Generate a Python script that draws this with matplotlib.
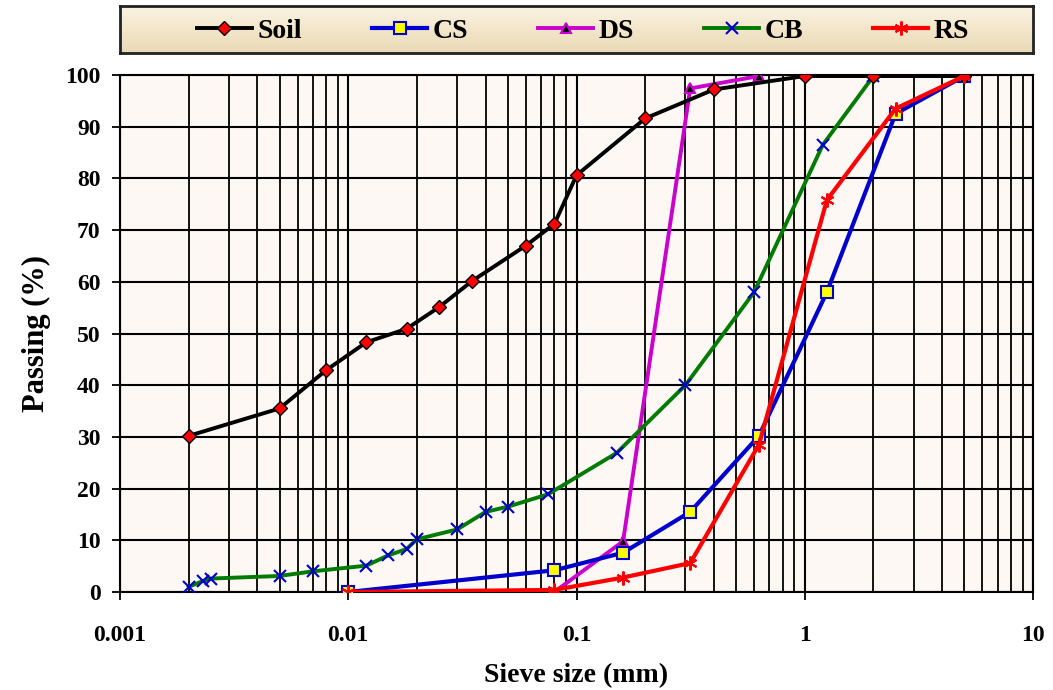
import numpy as np
import matplotlib.pyplot as plt
from matplotlib.ticker import LogLocator, FixedLocator, NullFormatter

plt.rcParams['font.family'] = ['Liberation Serif', 'DejaVu Serif']
plt.rcParams['font.weight'] = 'bold'

# sieve sizes (mm) and passing (%) for each material
soil_x = [0.002, 0.005, 0.008, 0.012, 0.018, 0.025, 0.035, 0.06, 0.08, 0.1, 0.2, 0.4, 1.0, 2.0, 5.0]
soil_y = [30.2, 35.5, 42.9, 48.3, 50.9, 55.1, 60.2, 67.0, 71.2, 80.6, 91.6, 97.2, 99.8, 99.8, 99.8]

cs_x = [0.01, 0.08, 0.16, 0.315, 0.63, 1.25, 2.5, 5.0]
cs_y = [0.0, 4.2, 7.6, 15.5, 30.2, 58.0, 92.5, 99.8]

ds_x = [0.01, 0.08, 0.16, 0.315, 0.63]
ds_y = [0.0, 0.0, 9.8, 97.4, 99.8]

cb_x = [0.002, 0.0023, 0.0025, 0.005, 0.007, 0.012, 0.015, 0.018, 0.02, 0.03, 0.04, 0.05,
        0.075, 0.15, 0.3, 0.6, 1.2, 2.0, 5.0]
cb_y = [1.0, 2.1, 2.6, 3.1, 4.0, 5.1, 7.1, 8.3, 10.2, 12.1, 15.5, 16.5,
        18.9, 26.9, 40.0, 58.0, 86.5, 99.8, 99.8]

rs_x = [0.01, 0.08, 0.16, 0.315, 0.63, 1.25, 2.5, 5.0]
rs_y = [0.0, 0.4, 2.8, 5.6, 28.5, 75.8, 93.5, 99.8]

W, H = 1053, 690
fig = plt.figure(figsize=(W / 100, H / 100), dpi=100)
ax = fig.add_axes([120 / W, 1 - 592 / H, 913 / W, 517 / H])
ax.set_facecolor('#FDF8F4')

ax.plot(soil_x, soil_y, color='black', lw=2.8, marker='D', ms=7,
        mfc='red', mec='black', mew=1, label='Soil', zorder=5)
ax.plot(cs_x, cs_y, color='#0000CC', lw=3, marker='s', ms=8,
        mfc='yellow', mec='#0000CC', mew=1.5, label='CS', zorder=4)
ax.plot(ds_x, ds_y, color='#CC00CC', lw=2.8, marker='^', ms=7,
        mfc='black', mec='#CC00CC', mew=1.5, label='DS', zorder=3)
ax.plot(cb_x, cb_y, color='#007A00', lw=2.8, marker='x', ms=8,
        mec='#0000CC', mew=1.5, label='CB', zorder=3)
ax.plot(rs_x, rs_y, color='red', lw=3, marker=(6, 2, 0), ms=10,
        mec='red', mew=1.5, label='RS', zorder=6)

ax.set_xscale('log')
ax.set_xlim(0.001, 10)
ax.set_ylim(0, 100)
ax.xaxis.set_major_locator(FixedLocator([0.001, 0.01, 0.1, 1, 10]))
ax.xaxis.set_minor_locator(LogLocator(base=10, subs=np.arange(2, 10), numticks=20))
ax.xaxis.set_minor_formatter(NullFormatter())
ax.set_xticklabels(['0.001', '0.01', '0.1', '1', '10'])
ax.set_yticks(np.arange(0, 101, 10))

ax.grid(True, which='major', color='black', lw=1.5)
ax.grid(True, which='minor', axis='x', color='black', lw=1.3)
ax.set_axisbelow(True)

ax.tick_params(axis='both', which='major', labelsize=17, length=6, width=1.3, direction='out')
ax.tick_params(axis='x', which='major', pad=18)
ax.tick_params(axis='y', which='major', pad=8)
ax.tick_params(axis='x', which='minor', length=0)
for s in ax.spines.values():
    s.set_color('black')
    s.set_linewidth(1.5)

ax.set_xlabel('Sieve size (mm)', fontsize=20, fontweight='bold', labelpad=12)
ax.set_ylabel('Passing (%)', fontsize=22, fontweight='bold', labelpad=10)

# legend box with a soft vertical gradient
bax = fig.add_axes([120 / W, 1 - 53 / H, 913 / W, 47 / H])
grad = np.linspace(0, 1, 64).reshape(-1, 1)
bax.imshow(grad, aspect='auto', cmap=plt.matplotlib.colors.LinearSegmentedColormap.from_list(
    'bg', ['#FAF3E3', '#F3E6CA', '#E9D9B6']), extent=[0, 1, 0, 1], origin='upper')
bax.set_xticks([])
bax.set_yticks([])
for s in bax.spines.values():
    s.set_linewidth(2)
    s.set_color('#222222')

handles, labels = ax.get_legend_handles_labels()
leg = fig.legend(handles, labels, loc='center', bbox_to_anchor=(583 / W, 1 - 31 / H),
                 ncol=5, frameon=False, prop={'size': 20, 'weight': 'bold'},
                 handlelength=2.0, handletextpad=0.2, columnspacing=2.5,
                 borderaxespad=0)

fig.savefig('out.png', dpi=100)
